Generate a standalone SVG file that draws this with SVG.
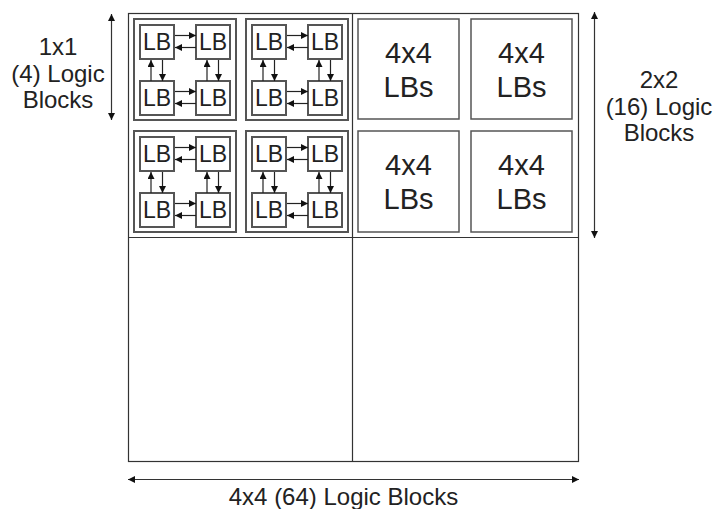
<svg xmlns="http://www.w3.org/2000/svg" width="713" height="509" viewBox="0 0 713 509">
<defs>
<style>
text{font-family:"Liberation Sans",Arial,sans-serif;fill:#222;text-anchor:middle}
.lbl{font-size:24px}
.big{font-size:29px}
.lb{font-size:23px}
.outer{fill:none;stroke:#333;stroke-width:1.2}
.sub{fill:#fff;stroke:#555;stroke-width:2}
.lbbox{fill:#fff;stroke:#555;stroke-width:2}
.bb{fill:#fff;stroke:#555;stroke-width:1.5}
.a{stroke:#222;stroke-width:1.2;fill:none;marker-end:url(#h)}
.dim{stroke:#333;stroke-width:1.2;fill:none;marker-start:url(#h2);marker-end:url(#h)}
</style>
<marker id="h" viewBox="0 0 10 10" refX="10" refY="5" markerWidth="7" markerHeight="7" markerUnits="userSpaceOnUse" orient="auto"><path d="M0,0 L10,5 L0,10 z" fill="#111"/></marker>
<marker id="h2" viewBox="0 0 10 10" refX="0" refY="5" markerWidth="7" markerHeight="7" markerUnits="userSpaceOnUse" orient="auto"><path d="M10,0 L0,5 L10,10 z" fill="#111"/></marker>
</defs>
<g id="grid">
<rect class="outer" x="128.5" y="13.5" width="450" height="448"/>
<line class="outer" x1="352.5" y1="13.5" x2="352.5" y2="461.5"/>
<line class="outer" x1="128.5" y1="237.5" x2="578.5" y2="237.5"/>
</g>
<g id="cell1" transform="translate(134,19)">
<rect class="sub" x="0" y="0" width="102" height="101"/>
<g id="cell1-lb1"><rect class="lbbox" x="6" y="6" width="34" height="34"/><text class="lb" x="23" y="31">LB</text></g>
<g id="cell1-lb2"><rect class="lbbox" x="62" y="6" width="34" height="34"/><text class="lb" x="79" y="31">LB</text></g>
<g id="cell1-lb3"><rect class="lbbox" x="6" y="62" width="34" height="34"/><text class="lb" x="23" y="87">LB</text></g>
<g id="cell1-lb4"><rect class="lbbox" x="62" y="62" width="34" height="34"/><text class="lb" x="79" y="87">LB</text></g>
<g class="conn"><path class="a" d="M41,16.5H62"/><path class="a" d="M62,28.5H41"/><path class="a" d="M41,72.5H62"/><path class="a" d="M62,84.5H41"/><path class="a" d="M17,62V41"/><path class="a" d="M28.5,41V62"/><path class="a" d="M73,62V41"/><path class="a" d="M84.5,41V62"/></g>
</g>
<g id="cell2" transform="translate(246,19)">
<rect class="sub" x="0" y="0" width="102" height="101"/>
<g id="cell2-lb1"><rect class="lbbox" x="6" y="6" width="34" height="34"/><text class="lb" x="23" y="31">LB</text></g>
<g id="cell2-lb2"><rect class="lbbox" x="62" y="6" width="34" height="34"/><text class="lb" x="79" y="31">LB</text></g>
<g id="cell2-lb3"><rect class="lbbox" x="6" y="62" width="34" height="34"/><text class="lb" x="23" y="87">LB</text></g>
<g id="cell2-lb4"><rect class="lbbox" x="62" y="62" width="34" height="34"/><text class="lb" x="79" y="87">LB</text></g>
<g class="conn"><path class="a" d="M41,16.5H62"/><path class="a" d="M62,28.5H41"/><path class="a" d="M41,72.5H62"/><path class="a" d="M62,84.5H41"/><path class="a" d="M17,62V41"/><path class="a" d="M28.5,41V62"/><path class="a" d="M73,62V41"/><path class="a" d="M84.5,41V62"/></g>
</g>
<g id="cell3" transform="translate(134,131)">
<rect class="sub" x="0" y="0" width="102" height="101"/>
<g id="cell3-lb1"><rect class="lbbox" x="6" y="6" width="34" height="34"/><text class="lb" x="23" y="31">LB</text></g>
<g id="cell3-lb2"><rect class="lbbox" x="62" y="6" width="34" height="34"/><text class="lb" x="79" y="31">LB</text></g>
<g id="cell3-lb3"><rect class="lbbox" x="6" y="62" width="34" height="34"/><text class="lb" x="23" y="87">LB</text></g>
<g id="cell3-lb4"><rect class="lbbox" x="62" y="62" width="34" height="34"/><text class="lb" x="79" y="87">LB</text></g>
<g class="conn"><path class="a" d="M41,16.5H62"/><path class="a" d="M62,28.5H41"/><path class="a" d="M41,72.5H62"/><path class="a" d="M62,84.5H41"/><path class="a" d="M17,62V41"/><path class="a" d="M28.5,41V62"/><path class="a" d="M73,62V41"/><path class="a" d="M84.5,41V62"/></g>
</g>
<g id="cell4" transform="translate(246,131)">
<rect class="sub" x="0" y="0" width="102" height="101"/>
<g id="cell4-lb1"><rect class="lbbox" x="6" y="6" width="34" height="34"/><text class="lb" x="23" y="31">LB</text></g>
<g id="cell4-lb2"><rect class="lbbox" x="62" y="6" width="34" height="34"/><text class="lb" x="79" y="31">LB</text></g>
<g id="cell4-lb3"><rect class="lbbox" x="6" y="62" width="34" height="34"/><text class="lb" x="23" y="87">LB</text></g>
<g id="cell4-lb4"><rect class="lbbox" x="62" y="62" width="34" height="34"/><text class="lb" x="79" y="87">LB</text></g>
<g class="conn"><path class="a" d="M41,16.5H62"/><path class="a" d="M62,28.5H41"/><path class="a" d="M41,72.5H62"/><path class="a" d="M62,84.5H41"/><path class="a" d="M17,62V41"/><path class="a" d="M28.5,41V62"/><path class="a" d="M73,62V41"/><path class="a" d="M84.5,41V62"/></g>
</g>
<g id="blk1"><rect class="bb" x="358" y="19" width="101" height="100"/><text class="big" x="408.5" y="63">4x4</text><text class="big" x="408.5" y="97">LBs</text></g>
<g id="blk2"><rect class="bb" x="471" y="19" width="101" height="100"/><text class="big" x="521.5" y="63">4x4</text><text class="big" x="521.5" y="97">LBs</text></g>
<g id="blk3"><rect class="bb" x="358" y="131" width="101" height="101"/><text class="big" x="408.5" y="175">4x4</text><text class="big" x="408.5" y="209">LBs</text></g>
<g id="blk4"><rect class="bb" x="471" y="131" width="101" height="101"/><text class="big" x="521.5" y="175">4x4</text><text class="big" x="521.5" y="209">LBs</text></g>
<g id="connectors">
<line class="dim" x1="111.5" y1="14" x2="111.5" y2="120"/>
<line class="dim" x1="594.5" y1="12" x2="594.5" y2="238"/>
<line class="dim" x1="128" y1="479.5" x2="579" y2="479.5"/>
</g>
<g id="label-1x1"><text class="lbl" x="58" y="55">1x1</text><text class="lbl" x="58" y="81.5">(4) Logic</text><text class="lbl" x="58" y="108">Blocks</text></g>
<g id="label-2x2"><text class="lbl" x="659" y="88">2x2</text><text class="lbl" x="659" y="114.5">(16) Logic</text><text class="lbl" x="659" y="141">Blocks</text></g>
<g id="label-4x4"><text class="lbl" x="343.5" y="505">4x4 (64) Logic Blocks</text></g>
</svg>
